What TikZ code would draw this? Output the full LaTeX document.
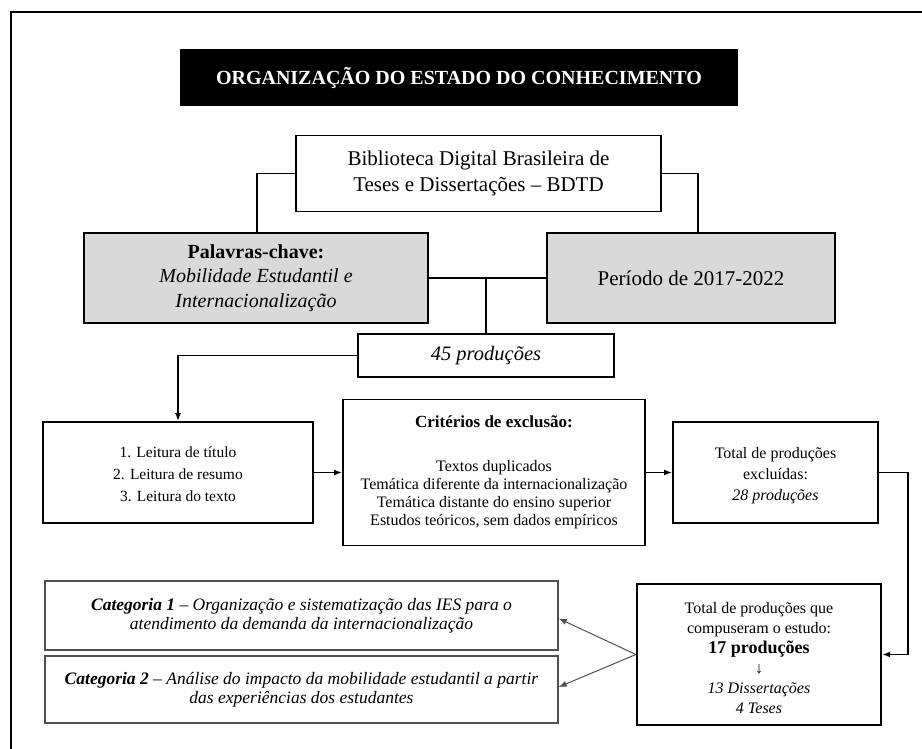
\documentclass[tikz,border=0pt]{standalone}
\usepackage{fontspec}
\setmainfont{Liberation Serif}
\usetikzlibrary{arrows.meta}
\definecolor{boxgray}{HTML}{D9D9D9}
\definecolor{catline}{HTML}{505050}
\tikzset{
  box/.style={draw=black, line width=1.8pt, rectangle, inner sep=0pt, align=center, text=black},
  graybox/.style={box, fill=boxgray},
  catbox/.style={draw=catline, line width=1.3pt, rectangle, inner sep=0pt, align=center},
  txt/.style={inner sep=0pt, align=center, text=black},
  conn/.style={line width=1.8pt, black},
  arr/.style={conn, -{Latex[length=8pt,width=6pt]}},
  thinarr/.style={line width=1pt, catline, -{Latex[length=8pt,width=6pt]}},
}
\begin{document}
\begin{tikzpicture}[x=1pt,y=-1pt]
\useasboundingbox (0,0) rectangle (922,749);
\draw[line width=2.5pt] (11,12) rectangle (960,790);

\node[rectangle, fill=black, text=white, minimum width=558pt, minimum height=57pt, inner sep=0pt,
  font=\fontsize{20}{24}\selectfont\bfseries] (title) at (459,77.5) {ORGANIZAÇÃO DO ESTADO DO CONHECIMENTO};

\node[box, minimum width=365pt, minimum height=76pt, font=\fontsize{21}{26}\selectfont] (bib) at (478.5,173.5)
  {Biblioteca Digital Brasileira de\\Teses e Dissertações – BDTD};

\node[graybox, minimum width=344pt, minimum height=90pt, font=\fontsize{20}{24.5}\selectfont] (pal) at (256,278)
  {\textbf{Palavras-chave:}\\\textit{Mobilidade Estudantil e}\\\textit{Internacionalização}};

\node[graybox, minimum width=288pt, minimum height=90pt, font=\fontsize{21}{24}\selectfont] (per) at (691,278)
  {Período de 2017-2022};

\node[box, minimum width=256pt, minimum height=43pt, font=\fontsize{20.5}{24}\selectfont] (p45) at (486,355.5)
  {\textit{45 produções}};

\node[box, minimum width=270pt, minimum height=101pt] (leit) at (178,472.5) {};
\node[txt, font=\fontsize{15.5}{22}\selectfont] (leittxt) at ([yshift=-2pt]leit.center)
  {1. Leitura de título\\2. Leitura de resumo\\3. Leitura do texto};

\node[box, minimum width=302pt, minimum height=146pt, font=\fontsize{16}{18}\selectfont] (crit) at (494,472.5)
  {{\fontsize{17}{18}\selectfont\textbf{Critérios de exclusão:}}\\[26pt]Textos duplicados\\Temática diferente da internacionalização\\Temática distante do ensino superior\\Estudos teóricos, sem dados empíricos};

\node[box, minimum width=205pt, minimum height=101pt] (excl) at (775.5,472.5) {};
\node[txt, font=\fontsize{16}{21}\selectfont] (excltxt) at ([yshift=-3pt]excl.center)
  {Total de produções\\excluídas:\\\textit{28 produções}};

\node[box, line width=2.2pt, minimum width=244pt, minimum height=141pt] (final) at (759,654.5) {};
\node[txt, font=\fontsize{16}{20}\selectfont] (finaltxt) at ([yshift=-3.5pt]final.center)
  {Total de produções que\\compuseram o estudo:\\{\fontsize{18}{20}\selectfont\textbf{17 produções}}\\↓\\\textit{13 Dissertações}\\\textit{4 Teses}};

\node[catbox, minimum width=513pt, minimum height=69pt, font=\fontsize{17.5}{19}\selectfont] (cat1) at (301.5,615.5)
  {\textbf{\textit{Categoria 1}} – \textit{Organização e sistematização das IES para o}\\\textit{atendimento da demanda da internacionalização}};

\node[catbox, minimum width=513pt, minimum height=67pt, font=\fontsize{17.5}{19}\selectfont] (cat2) at (301.5,689.5)
  {\textbf{\textit{Categoria 2}} – \textit{Análise do impacto da mobilidade estudantil a partir}\\\textit{das experiências dos estudantes}};

% connectors
\draw[conn] (bib.west) -| ([xshift=1pt]pal.north);
\draw[conn] (bib.east) -| ([xshift=7pt]per.north);
\draw[conn] (pal.east) -- (per.west);
\draw[conn] (p45.north) -- (p45.north |- pal.east);
\draw[arr] (p45.west) -| (leit.north);
\draw[arr] (leit.east) -- (crit.west);
\draw[arr] (crit.east) -- (excl.west);
\draw[arr] (excl.east) -- ++(29,0) |- (final.east);
\draw[thinarr] (final.west) -- ([yshift=-3pt]cat1.east);
\draw[thinarr] (final.west) -- ([yshift=2.5pt]cat2.east);
\end{tikzpicture}
\end{document}
